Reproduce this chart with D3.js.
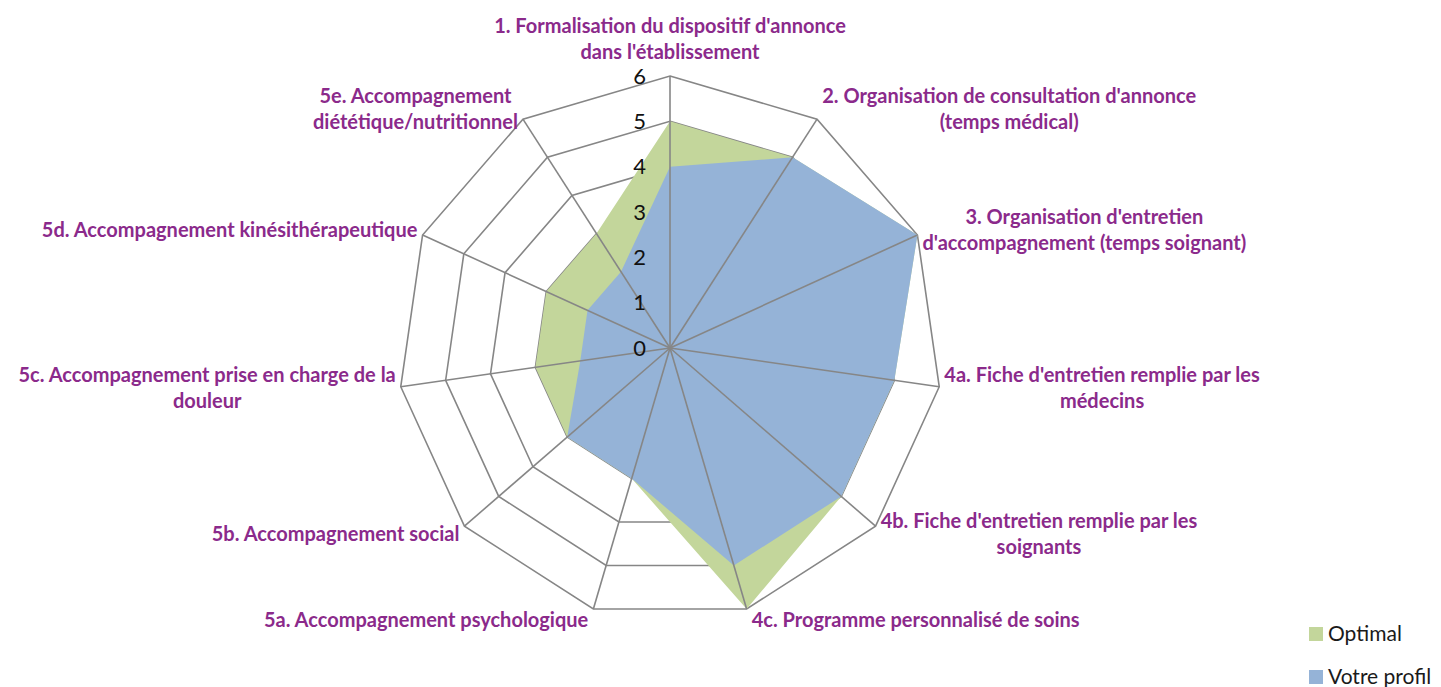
<!DOCTYPE html>
<html>
<head>
<meta charset="utf-8">
<script src="https://cdn.jsdelivr.net/npm/d3@7"></script>
<style>
  body { margin: 0; background: #fff; }
  svg { display: block; }
</style>
</head>
<body>
<div id="chart"></div>
<script>
// axis labels, clockwise from the top
const categories = [
    ["1. Formalisation du dispositif d'annonce", "dans l'établissement"],
    ["2. Organisation de consultation d'annonce", "(temps médical)"],
    ["3. Organisation d'entretien", "d'accompagnement (temps soignant)"],
    ["4a. Fiche d'entretien remplie par les", "médecins"],
    ["4b. Fiche d'entretien remplie par les", "soignants"],
    ["4c. Programme personnalisé de soins"],
    ["5a. Accompagnement psychologique"],
    ["5b. Accompagnement social"],
    ["5c. Accompagnement prise en charge de la", "douleur"],
    ["5d. Accompagnement kinésithérapeutique"],
    ["5e. Accompagnement", "diététique/nutritionnel"]
];
const optimal = [5, 5, 6, 5, 5, 6, 3, 3, 3, 3, 3];
const profil = [4, 5, 6, 5, 5, 5, 3, 3, 2, 2, 2];
const tickValues = [0, 1, 2, 3, 4, 5, 6];
const seriesNames = ['Optimal', 'Votre profil'];
const seriesColors = ['#c3d69b', '#95b3d7'];

document.addEventListener('DOMContentLoaded', function() {
    const width = 1441, height = 687;
    const cx = 670, cy = 348, radius = 272;
    const labelColor = '#8b2a8b';
    const gridColor = '#868686';
    const font = 'Lato, "Open Sans", sans-serif';

    const svg = d3.select('#chart').append('svg')
        .attr('width', width)
        .attr('height', height);

    const g = svg.append('g').attr('transform', `translate(${cx},${cy})`);

    const n = categories.length;
    const angle = d3.scaleLinear().domain([0, n]).range([0, 2 * Math.PI]);
    const r = d3.scaleLinear().domain([0, 6]).range([0, radius]);

    function point(i, v) {
        const a = angle(i);
        return [r(v) * Math.sin(a), -r(v) * Math.cos(a)];
    }

    // rings (drawn under the areas)
    tickValues.filter(t => t > 0).forEach(t => {
        g.append('path')
            .attr('d', d3.line()(d3.range(n).map(i => point(i, t))) + 'Z')
            .style('fill', 'none')
            .style('stroke', gridColor)
            .style('stroke-width', 1.6);
    });

    // filled series
    [optimal, profil].forEach((series, si) => {
        g.append('path')
            .attr('d', d3.line()(series.map((v, i) => point(i, v))) + 'Z')
            .style('fill', seriesColors[si])
            .style('stroke', 'none');
    });

    // spokes on top
    d3.range(n).forEach(i => {
        const [x, y] = point(i, 6);
        g.append('line')
            .attr('x1', 0).attr('y1', 0)
            .attr('x2', x).attr('y2', y)
            .style('stroke', gridColor)
            .style('stroke-width', 1.6);
    });

    // tick labels along the top axis
    tickValues.forEach(t => {
        g.append('text')
            .attr('x', -24)
            .attr('y', -r(t))
            .attr('dy', '0.35em')
            .attr('text-anchor', 'end')
            .style('font-family', font)
            .style('font-size', '22px')
            .style('fill', '#111')
            .text(t);
    });

    // category labels
    const lineHeight = 26;
    categories.forEach((lines, i) => {
        const a = angle(i);
        const s = Math.sin(a), c = Math.cos(a);
        const [vx, vy] = point(i, 6);
        const label = g.append('text')
            .attr('text-anchor', 'middle')
            .style('font-family', font)
            .style('font-weight', 'bold')
            .style('font-size', '20px')
            .style('fill', labelColor);
        lines.forEach((l, k) => {
            label.append('tspan').attr('x', 0).attr('y', k * lineHeight).text(l);
        });
        const w = label.node().getBBox().width;
        const blockH = (lines.length - 1) * lineHeight;
        let x, yCenter;
        if (Math.abs(s) < 0.1) {
            x = vx;
            yCenter = vy - 24 - blockH / 2;
        } else {
            x = vx + Math.sign(s) * (5 + w / 2);
            yCenter = vy - c * 12;
        }
        label.attr('transform', `translate(${x},${yCenter - blockH / 2})`);
        label.selectAll('tspan').attr('dy', '0.35em');
    });

    // legend
    const legend = svg.append('g').attr('transform', 'translate(1309,634)');
    seriesNames.forEach((name, i) => {
        const row = legend.append('g').attr('transform', `translate(0,${i * 43})`);
        row.append('rect')
            .attr('x', 0).attr('y', -7)
            .attr('width', 14).attr('height', 14)
            .style('fill', seriesColors[i]);
        row.append('text')
            .attr('x', 19).attr('y', 0)
            .attr('dy', '0.35em')
            .style('font-family', font)
            .style('font-size', '21px')
            .style('fill', '#1a1a1a')
            .text(name);
    });
});
</script>
</body>
</html>
